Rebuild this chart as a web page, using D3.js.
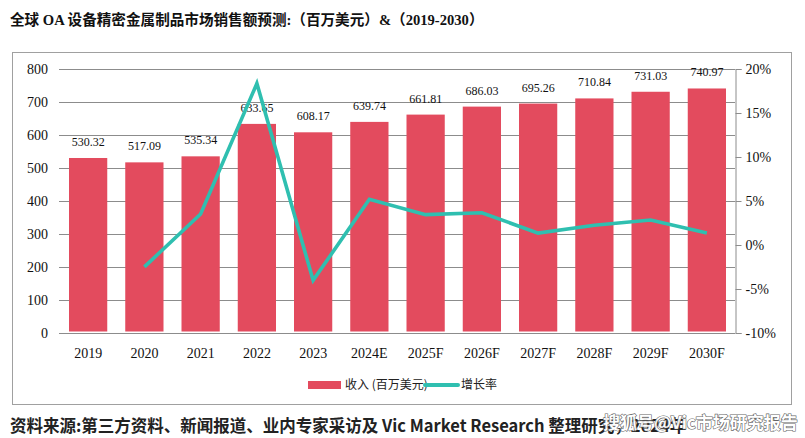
<!DOCTYPE html>
<html><head><meta charset="utf-8">
<script src="https://cdn.jsdelivr.net/npm/d3@7/dist/d3.min.js"></script>
<style>body{margin:0;background:#fff}svg{display:block}</style>
</head><body>
<script>
const categories = ["2019","2020","2021","2022","2023","2024E","2025F","2026F","2027F","2028F","2029F","2030F"];
const revenue = [530.32,517.09,535.34,633.65,608.17,639.74,661.81,686.03,695.26,710.84,731.03,740.97];
const growthCats = ["2020","2021","2022","2023","2024E","2025F","2026F","2027F","2028F","2029F","2030F"];
const growth = [-2.49,3.53,18.36,-4.02,5.19,3.45,3.66,1.35,2.24,2.84,1.36];
const leftTicks = [0,100,200,300,400,500,600,700,800];
const rightTicks = [-10,-5,0,5,10,15,20];
const titleText = "全球 OA 设备精密金属制品市场销售额预测:（百万美元）&（2019-2030）";
const legendLabels = ["收入 (百万美元)","增长率"];
const footerText = "资料来源:第三方资料、新闻报道、业内专家采访及 Vic Market Research 整理研究，2024年";
const watermark = "搜狐号@Vic市场研究报告";

const W=805,H=438;
const svg=d3.select("body").append("svg").attr("width",W).attr("height",H);
const serif="'Liberation Serif','Times New Roman',serif";
const cjk="'Noto Sans CJK SC','Noto Sans',sans-serif";
const barColor="#e34b5e", lineColor="#2fbfb0", gridColor="#8c8c8c";

// title
svg.append("text").attr("x",10).attr("y",25).attr("font-size",14.6).attr("font-weight","bold")
  .attr("font-family",serif+","+cjk).attr("fill","#111").text(titleText);

// outer frame
svg.append("rect").attr("x",12.5).attr("y",52.5).attr("width",779).attr("height",352)
  .attr("fill","none").attr("stroke","#a0a0a0").attr("stroke-width",1);

const x=d3.scaleBand().domain(categories).range([60,735]).paddingInner(0.32).paddingOuter(0.16);
const yL=d3.scaleLinear().domain([0,800]).range([333,69]);
const yR=d3.scaleLinear().domain([-10,20]).range([333,69]);

// gridlines
svg.append("g").selectAll("line").data(leftTicks).join("line")
  .attr("x1",59).attr("x2",735).attr("y1",d=>Math.round(yL(d))+0.5).attr("y2",d=>Math.round(yL(d))+0.5)
  .attr("stroke",gridColor).attr("stroke-width",1);

// left labels
svg.append("g").selectAll("text").data(leftTicks).join("text")
  .attr("x",48).attr("y",d=>yL(d)+5).attr("text-anchor","end").attr("font-size",14)
  .attr("font-family",serif).attr("fill","#111").text(d=>d);

// right axis
const gR=svg.append("g").attr("transform","translate(735.5,0)")
  .call(d3.axisRight(yR).tickValues(rightTicks).tickSize(6).tickPadding(4).tickFormat(d=>d+"%"));
gR.select(".domain").attr("stroke",gridColor);
gR.selectAll(".tick line").attr("stroke",gridColor);
gR.selectAll(".tick text").attr("font-size",14).attr("font-family",serif).attr("fill","#111");

// bars
svg.append("g").selectAll("rect").data(revenue).join("rect")
  .attr("x",(d,i)=>x(categories[i])).attr("width",x.bandwidth())
  .attr("y",d=>yL(d)).attr("height",d=>yL(0)-1.5-yL(d)).attr("fill",barColor);

// bar labels
svg.append("g").selectAll("text").data(revenue).join("text")
  .attr("x",(d,i)=>x(categories[i])+x.bandwidth()/2).attr("y",d=>yL(d)-12)
  .attr("text-anchor","middle").attr("font-size",12).attr("font-family",serif).attr("fill","#111")
  .text(d=>d.toFixed(2));

// x labels
svg.append("g").selectAll("text").data(categories).join("text")
  .attr("x",d=>x(d)+x.bandwidth()/2).attr("y",358).attr("text-anchor","middle")
  .attr("font-size",14).attr("font-family",serif).attr("fill","#111").text(d=>d);

// growth line
const line=d3.line().x((d,i)=>x(growthCats[i])+x.bandwidth()/2).y(d=>yR(d));
svg.append("path").datum(growth).attr("d",line).attr("fill","none")
  .attr("stroke",lineColor).attr("stroke-width",3.6).attr("stroke-linejoin","miter");

// legend
const lg=svg.append("g");
lg.append("rect").attr("x",308).attr("y",381).attr("width",33).attr("height",8).attr("fill",barColor);
lg.append("text").attr("x",345).attr("y",389).attr("font-size",12).attr("font-family",cjk).attr("fill","#222").text(legendLabels[0]);
lg.append("line").attr("x1",425).attr("x2",458).attr("y1",385).attr("y2",385).attr("stroke",lineColor).attr("stroke-width",4).attr("stroke-linecap","round");
lg.append("text").attr("x",461).attr("y",389).attr("font-size",12).attr("font-family",cjk).attr("fill","#222").text(legendLabels[1]);

// footer
svg.append("text").attr("x",10).attr("y",432).attr("font-size",16.5).attr("font-weight","bold")
  .attr("font-family",cjk).attr("fill","#222").text(footerText);
svg.append("text").attr("x",603).attr("y",429).attr("font-size",17).attr("font-weight","bold")
  .attr("font-family",cjk).attr("fill","#fff").attr("stroke","#555").attr("stroke-width",1.2)
  .attr("paint-order","stroke").attr("opacity",0.9).text(watermark);
</script>
</body></html>
